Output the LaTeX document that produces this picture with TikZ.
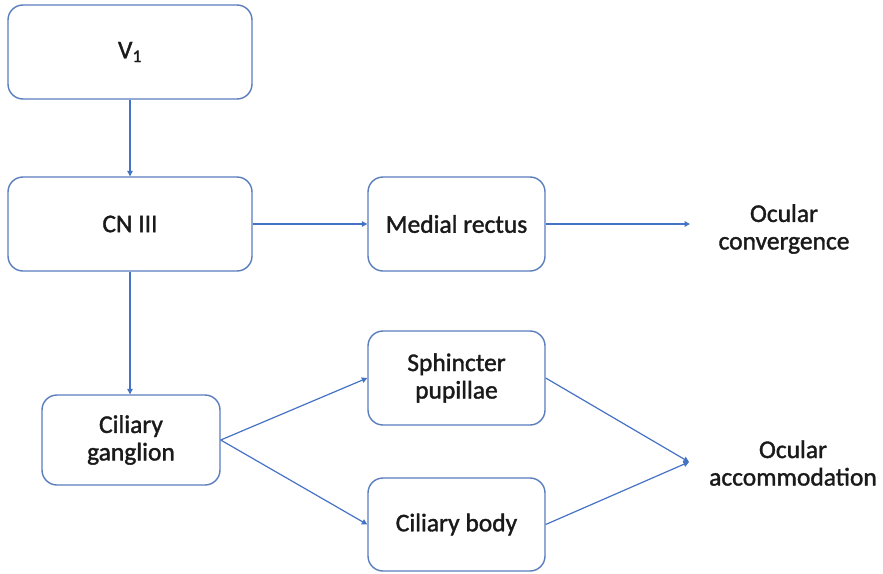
\documentclass[tikz,border=0pt]{standalone}
\usepackage{fontspec}
\setmainfont{Carlito}[FakeBold=1.4]
\usetikzlibrary{arrows.meta}
\definecolor{edgeblue}{RGB}{68,114,196}
\definecolor{boxblue}{RGB}{90,125,190}
\definecolor{ink}{RGB}{26,26,26}
\tikzset{
  stagebox/.style={draw=boxblue, line width=1.4pt, rounded corners=15pt,
    fill=white, text=ink, align=center, inner sep=0pt,
    font=\fontsize{25.5}{27.5}\selectfont},
  outcome/.style={text=ink, align=center, inner sep=0pt,
    font=\fontsize{25.5}{27.5}\selectfont},
  link/.style={draw=edgeblue, line width=1.2pt,
    -{Triangle[length=5.5pt,width=5.5pt]}}
}
\begin{document}
\begin{tikzpicture}[x=1pt,y=-1pt]
  \useasboundingbox (0,0) rectangle (883,573);

  % nerve and ganglion boxes
  \node[stagebox, minimum width=244pt, minimum height=94pt] (v1)  at (130,52)  {V\textsubscript{1}};
  \node[stagebox, minimum width=244pt, minimum height=94pt] (cn3) at (130,224) {CN III};
  \node[stagebox, minimum width=178pt, minimum height=90pt] (gang) at (131,440) {Ciliary\\ganglion};

  % effector boxes
  \node[stagebox, minimum width=177pt, minimum height=94pt] (medial) at (456.5,224) {Medial rectus};
  \node[stagebox, minimum width=177pt, minimum height=94pt] (sph)    at (456.5,378) {Sphincter\\pupillae};
  \node[stagebox, minimum width=177pt, minimum height=93pt] (body)   at (456.5,524.5) {Ciliary body};

  % responses
  \node[outcome] (conv) at (784,229) {Ocular\\convergence};
  \node[outcome] (accom) at (793,463) {Ocular\\accommodation};
  \coordinate (convin) at (690,224);
  \coordinate (accin) at (689,462);

  % pathways
  \draw[link] (v1) -- (cn3);
  \draw[link] (cn3) -- (medial);
  \draw[link] (medial) -- (convin);
  \draw[link] (cn3.south -| gang.north) ++(-1,0) coordinate (cnout) (cnout) -- (cnout |- gang.north);
  \draw[link] (gang.east) -- (sph.west);
  \draw[link] (gang.east) -- (body.west);
  \draw[link] (sph.east) -- (accin);
  \draw[link] (body.east) -- (accin);
\end{tikzpicture}
\end{document}
